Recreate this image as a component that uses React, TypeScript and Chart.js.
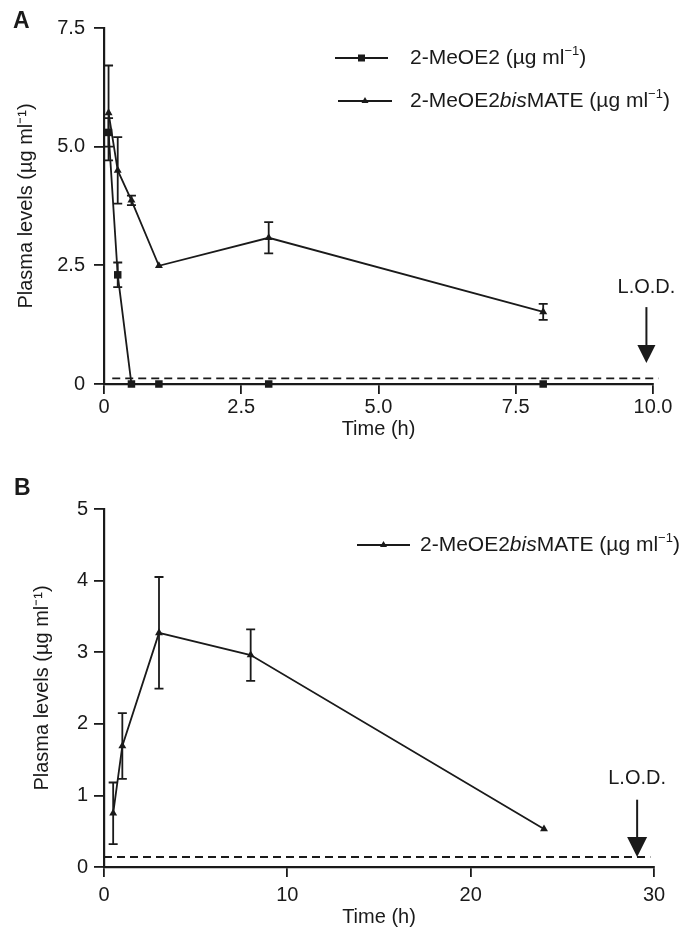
import React, { useEffect, useRef } from 'react';
import { Chart, registerables } from 'chart.js';

Chart.register(...registerables);

const FONT = "'Liberation Sans', Arial, Helvetica, sans-serif";
const INK = '#1a1a1a';

// ---------- Panel A data ----------
const timeA = [0.083, 0.25, 0.5, 1, 3, 8];
const meoe2A = [5.3, 2.3, 0, 0, 0, 0];
const meoe2ErrA = [0.3, 0.26, 0, 0, 0, 0];
const bisA = [5.71, 4.5, 3.87, 2.49, 3.08, 1.52];
const bisErrA = [1.0, 0.7, 0.1, 0, 0.33, 0.17];
const lodA = 0.12;
const lodSpanA = [0.15, 10.1];
const lodArrowA = { x: 9.88, text: 2.04, top: 1.62, headTop: 0.82, bottom: 0.44 };

// ---------- Panel B data ----------
const timeB = [0.5, 1, 3, 8, 24];
const bisB = [0.75, 1.69, 3.27, 2.96, 0.53];
const bisErrB = [0.43, 0.46, 0.78, 0.36, 0];
const lodB = 0.14;
const lodSpanB = [0, 29.8];
const lodArrowB = { x: 29.08, text: 1.24, top: 0.94, headTop: 0.42, bottom: 0.14 };

const UNIT = [{ t: ' (\u00b5g ml' }, { t: '\u22121', sup: true }, { t: ')' }];
const labelMeOE2 = [{ t: '2-MeOE2' }, ...UNIT];
const labelBis = [{ t: '2-MeOE2' }, { t: 'bis', italic: true }, { t: 'MATE' }, ...UNIT];

type Seg = { t: string; italic?: boolean; sup?: boolean };

function drawRich(ctx: CanvasRenderingContext2D, segs: Seg[], x: number, y: number, size: number) {
  let cx = x;
  ctx.textBaseline = 'middle';
  ctx.textAlign = 'left';
  for (const s of segs) {
    const fs = s.sup ? Math.round(size * 0.62) : size;
    ctx.font = `${s.italic ? 'italic ' : ''}${fs}px ${FONT}`;
    ctx.fillText(s.t, cx, s.sup ? y - size * 0.32 : y);
    cx += ctx.measureText(s.t).width;
  }
}

function marker(ctx: CanvasRenderingContext2D, kind: string, x: number, y: number, r: number) {
  ctx.beginPath();
  if (kind === 'rect') {
    ctx.rect(x - r, y - r, 2 * r, 2 * r);
  } else {
    ctx.moveTo(x, y - r * 1.15);
    ctx.lineTo(x + r, y + r * 0.6);
    ctx.lineTo(x - r, y + r * 0.6);
    ctx.closePath();
  }
  ctx.fill();
}

const decorPlugin = {
  id: 'decor',
  afterDatasetsDraw(chart: any, _args: any, opts: any) {
    const ctx: CanvasRenderingContext2D = chart.ctx;
    const xs = chart.scales.x;
    const ys = chart.scales.y;
    ctx.save();
    ctx.strokeStyle = INK;
    ctx.fillStyle = INK;
    // error bars
    chart.data.datasets.forEach((ds: any) => {
      if (!ds.errors) return;
      ds.data.forEach((p: any, i: number) => {
        const e = ds.errors[i];
        if (!e) return;
        const px = xs.getPixelForValue(p.x);
        const y1 = ys.getPixelForValue(p.y + e);
        const y2 = ys.getPixelForValue(p.y - e);
        ctx.lineWidth = 1.8;
        ctx.beginPath();
        ctx.moveTo(px, y1);
        ctx.lineTo(px, y2);
        ctx.moveTo(px - 4.5, y1);
        ctx.lineTo(px + 4.5, y1);
        ctx.moveTo(px - 4.5, y2);
        ctx.lineTo(px + 4.5, y2);
        ctx.stroke();
      });
    });
    // legend
    (opts.legend || []).forEach((it: any) => {
      ctx.lineWidth = 1.8;
      ctx.beginPath();
      ctx.moveTo(it.x1, it.y);
      ctx.lineTo(it.x2, it.y);
      ctx.stroke();
      marker(ctx, it.marker, (it.x1 + it.x2) / 2, it.y, 3.5);
      drawRich(ctx, it.label, it.tx, it.y, 21);
    });
    // L.O.D. arrow
    const a = opts.lod;
    if (a) {
      const ax = xs.getPixelForValue(a.x);
      const yt = ys.getPixelForValue(a.top);
      const yh = ys.getPixelForValue(a.headTop);
      const yb = ys.getPixelForValue(a.bottom);
      const hw = (yb - yh) / 2;
      ctx.lineWidth = 2;
      ctx.beginPath();
      ctx.moveTo(ax, yt);
      ctx.lineTo(ax, yh + 1);
      ctx.stroke();
      ctx.beginPath();
      ctx.moveTo(ax - hw, yh);
      ctx.lineTo(ax + hw, yh);
      ctx.lineTo(ax, yb);
      ctx.closePath();
      ctx.fill();
      ctx.font = `20px ${FONT}`;
      ctx.textAlign = 'center';
      ctx.textBaseline = 'middle';
      ctx.fillText('L.O.D.', ax, ys.getPixelForValue(a.text));
    }
    ctx.restore();
  },
};

function fmtA(v: number) {
  return v === 0 ? '0' : v.toFixed(1);
}

function axisBase(fixedSize: number, horizontal: boolean) {
  return {
    type: 'linear',
    afterFit(scale: any) {
      if (horizontal) scale.height = fixedSize;
      else scale.width = fixedSize;
    },
    grid: {
      display: true,
      drawOnChartArea: false,
      drawTicks: true,
      tickLength: 10,
      color: INK,
      lineWidth: 1.8,
    },
    border: { display: true, color: INK, width: 2.2 },
  };
}

function seriesStyle(style: string, radius: number) {
  return {
    borderColor: INK,
    borderWidth: 1.8,
    showLine: true,
    tension: 0,
    pointStyle: style,
    pointRadius: radius,
    pointBackgroundColor: INK,
    pointBorderColor: INK,
    pointBorderWidth: 0,
    clip: false,
  };
}

function makeConfig(panel: 'A' | 'B'): any {
  const isA = panel === 'A';
  const lodSpan = isA ? lodSpanA : lodSpanB;
  const lod = isA ? lodA : lodB;
  const datasets: any[] = [
    {
      data: [
        { x: lodSpan[0], y: lod },
        { x: lodSpan[1], y: lod },
      ],
      borderColor: INK,
      borderWidth: 1.8,
      borderDash: [8, 5],
      pointRadius: 0,
      showLine: true,
      clip: false,
    },
  ];
  if (isA) {
    datasets.push({
      data: timeA.map((t, i) => ({ x: t, y: meoe2A[i] })),
      errors: meoe2ErrA,
      ...seriesStyle('rect', 5.3),
    });
    datasets.push({
      data: timeA.map((t, i) => ({ x: t, y: bisA[i] })),
      errors: bisErrA,
      ...seriesStyle('triangle', 4.6),
    });
  } else {
    datasets.push({
      data: timeB.map((t, i) => ({ x: t, y: bisB[i] })),
      errors: bisErrB,
      ...seriesStyle('triangle', 4.6),
    });
  }

  const tickFont = { family: FONT, size: 20 };
  const titleFont = { family: FONT, size: 20 };

  const x: any = {
    ...axisBase(isA ? 82 : 65, true),
    min: 0,
    max: isA ? 10 : 30,
    ticks: {
      stepSize: isA ? 2.5 : 10,
      color: INK,
      font: tickFont,
      padding: isA ? 1 : 6,
      maxRotation: 0,
      callback: (v: number) => (isA ? fmtA(v) : String(v)),
    },
    title: {
      display: true,
      text: 'Time (h)',
      color: INK,
      font: titleFont,
      padding: { top: 0, bottom: isA ? 25 : 3 },
    },
  };
  const y: any = {
    ...axisBase(104, false),
    min: 0,
    max: isA ? 7.5 : 5,
    ticks: {
      stepSize: isA ? 2.5 : 1,
      color: INK,
      font: tickFont,
      padding: isA ? 9 : 6,
      callback: (v: number) => (isA ? fmtA(v) : String(v)),
    },
    title: {
      display: true,
      text: 'Plasma levels (\u00b5g ml\u207b\u00b9)',
      color: INK,
      font: titleFont,
      padding: { top: isA ? 14 : 30, bottom: 0 },
    },
  };

  const legend = isA
    ? [
        { x1: 335, x2: 388, y: 58, marker: 'rect', label: labelMeOE2, tx: 410 },
        { x1: 338, x2: 392, y: 101, marker: 'triangle', label: labelBis, tx: 410 },
      ]
    : [{ x1: 357, x2: 410, y: 79, marker: 'triangle', label: labelBis, tx: 420 }];

  return {
    type: 'scatter',
    data: { datasets },
    plugins: [decorPlugin],
    options: {
      animation: false,
      responsive: false,
      maintainAspectRatio: false,
      devicePixelRatio: 1,
      layout: {
        padding: isA
          ? { left: 0, right: 32, top: 28, bottom: 0 }
          : { left: 0, right: 31, top: 43, bottom: 0 },
      },
      scales: { x, y },
      plugins: {
        legend: { display: false },
        tooltip: { enabled: false },
        decor: { legend, lod: isA ? lodArrowA : lodArrowB },
      },
    },
  };
}

function Panel({ panel, top }: { panel: 'A' | 'B'; top: number }) {
  const ref = useRef<HTMLCanvasElement | null>(null);
  useEffect(() => {
    if (!ref.current) return;
    const chart = new Chart(ref.current, makeConfig(panel));
    return () => chart.destroy();
  }, [panel]);
  return (
    <div style={{ position: 'absolute', left: 0, top, width: 685, height: 466 }}>
      <canvas ref={ref} width={685} height={466} style={{ display: 'block', width: 685, height: 466 }} />
    </div>
  );
}

export default function App() {
  return (
    <div
      style={{
        position: 'absolute',
        left: 0,
        top: 0,
        width: 685,
        height: 932,
        background: '#ffffff',
        overflow: 'hidden',
      }}
    >
      <Panel panel="A" top={0} />
      <Panel panel="B" top={466} />
      <div style={{ position: 'absolute', left: 13, top: 7, font: `bold 23px ${FONT}`, color: INK }}>A</div>
      <div style={{ position: 'absolute', left: 14, top: 474, font: `bold 23px ${FONT}`, color: INK }}>B</div>
    </div>
  );
}
